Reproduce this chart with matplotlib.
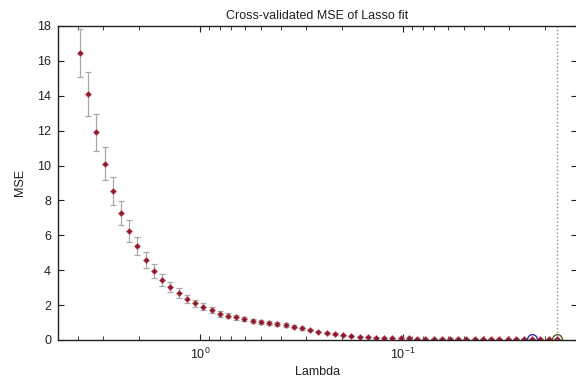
import matplotlib
matplotlib.use('Agg')
import matplotlib.pyplot as plt
from matplotlib.ticker import LogLocator, NullFormatter

plt.rcParams['font.family'] = ['Liberation Sans', 'DejaVu Sans']
plt.rcParams['font.size'] = 9

#
# Data
#
lambdas = [3.899, 3.551, 3.236, 2.948, 2.685, 2.446, 2.228, 2.030, 1.849, 1.685,
           1.535, 1.398, 1.274, 1.160, 1.057, 0.9627, 0.8770, 0.7989, 0.7278, 0.6630,
           0.6039, 0.5502, 0.5012, 0.4566, 0.4159, 0.3789, 0.3451, 0.3144, 0.2864, 0.2609,
           0.2377, 0.2165, 0.1972, 0.1797, 0.1637, 0.1491, 0.1358, 0.1237, 0.1127, 0.1027,
           0.09354, 0.08521, 0.07762, 0.07071, 0.06442, 0.05868, 0.05346, 0.04870, 0.04436, 0.04041,
           0.03681, 0.03354, 0.03055, 0.02783, 0.02535, 0.02309, 0.02104, 0.01916, 0.01746]

mse = [16.45, 14.1, 11.9, 10.1, 8.55, 7.3, 6.25, 5.4, 4.6, 3.95,
       3.45, 3.05, 2.7, 2.35, 2.1, 1.9, 1.7, 1.5, 1.4, 1.3,
       1.2, 1.1, 1.05, 0.97, 0.92, 0.86, 0.76, 0.67, 0.57, 0.48,
       0.40, 0.34, 0.28, 0.23, 0.19, 0.16, 0.14, 0.12, 0.11, 0.10,
       0.09, 0.085, 0.08, 0.075, 0.07, 0.068, 0.066, 0.064, 0.062, 0.06,
       0.058, 0.056, 0.055, 0.054, 0.053, 0.052, 0.051, 0.050, 0.049]

se = [1.4, 1.28, 1.07, 0.95, 0.8, 0.68, 0.62, 0.51, 0.45, 0.4,
      0.35, 0.3, 0.27, 0.25, 0.22, 0.2, 0.18, 0.16, 0.15, 0.14,
      0.13, 0.12, 0.11, 0.1, 0.1, 0.09, 0.08, 0.07, 0.06, 0.05,
      0.045, 0.04, 0.035, 0.03, 0.025, 0.02, 0.02, 0.02, 0.02, 0.02,
      0.02, 0.02, 0.02, 0.02, 0.02, 0.02, 0.02, 0.02, 0.02, 0.02,
      0.02, 0.02, 0.02, 0.02, 0.02, 0.02, 0.02, 0.02, 0.02]

idx_1se = 55   # blue circle
idx_min = 58   # green circle, dotted line

#
# Plotting
#
fig = plt.figure(figsize=(5.76, 3.83), dpi=100)
ax = fig.add_axes([58 / 576, 43 / 383, 519 / 576, 314 / 383])

ax.errorbar(lambdas, mse, yerr=se, fmt='none', ecolor='#a8a8a8', elinewidth=0.9,
            capsize=2, capthick=0.9)
ax.plot(lambdas, mse, linestyle='none', marker='D', markersize=3,
        markerfacecolor='#8a1a2c', markeredgecolor='#b84a58', markeredgewidth=0.5)

ax.plot(lambdas[idx_1se], mse[idx_1se], 'o', markersize=7, markerfacecolor='none',
        markeredgecolor='#3a2ab0', markeredgewidth=1)
ax.plot(lambdas[idx_min], mse[idx_min], 'o', markersize=7, markerfacecolor='none',
        markeredgecolor='#5e5a2a', markeredgewidth=1)
ax.axvline(lambdas[idx_min], color='#7a9a90', linestyle=':', linewidth=1)

ax.set_xscale('log')
ax.set_xlim(5.0, 0.0139)
ax.set_ylim(0, 18)
ax.set_yticks(range(0, 19, 2))
ax.xaxis.set_major_locator(LogLocator(base=10))
ax.xaxis.set_minor_locator(LogLocator(base=10, subs=range(2, 10)))
ax.xaxis.set_minor_formatter(NullFormatter())

ax.tick_params(which='both', direction='in', top=True, right=True, color='#202020',
               labelcolor='#202020')
ax.tick_params(which='major', length=4, width=0.8)
ax.tick_params(which='minor', length=3, width=0.6)
ax.tick_params(axis='y', pad=5)
ax.tick_params(axis='x', pad=5)
for sp in ax.spines.values():
    sp.set_linewidth(1)
    sp.set_color('#202020')

ax.set_title('Cross-validated MSE of Lasso fit', fontsize=9, pad=5, color='#202020')
ax.set_xlabel('Lambda', fontsize=9, labelpad=3, color='#202020')
ax.set_ylabel('MSE', fontsize=9, labelpad=8, color='#202020')

fig.savefig('out.png', dpi=100)
